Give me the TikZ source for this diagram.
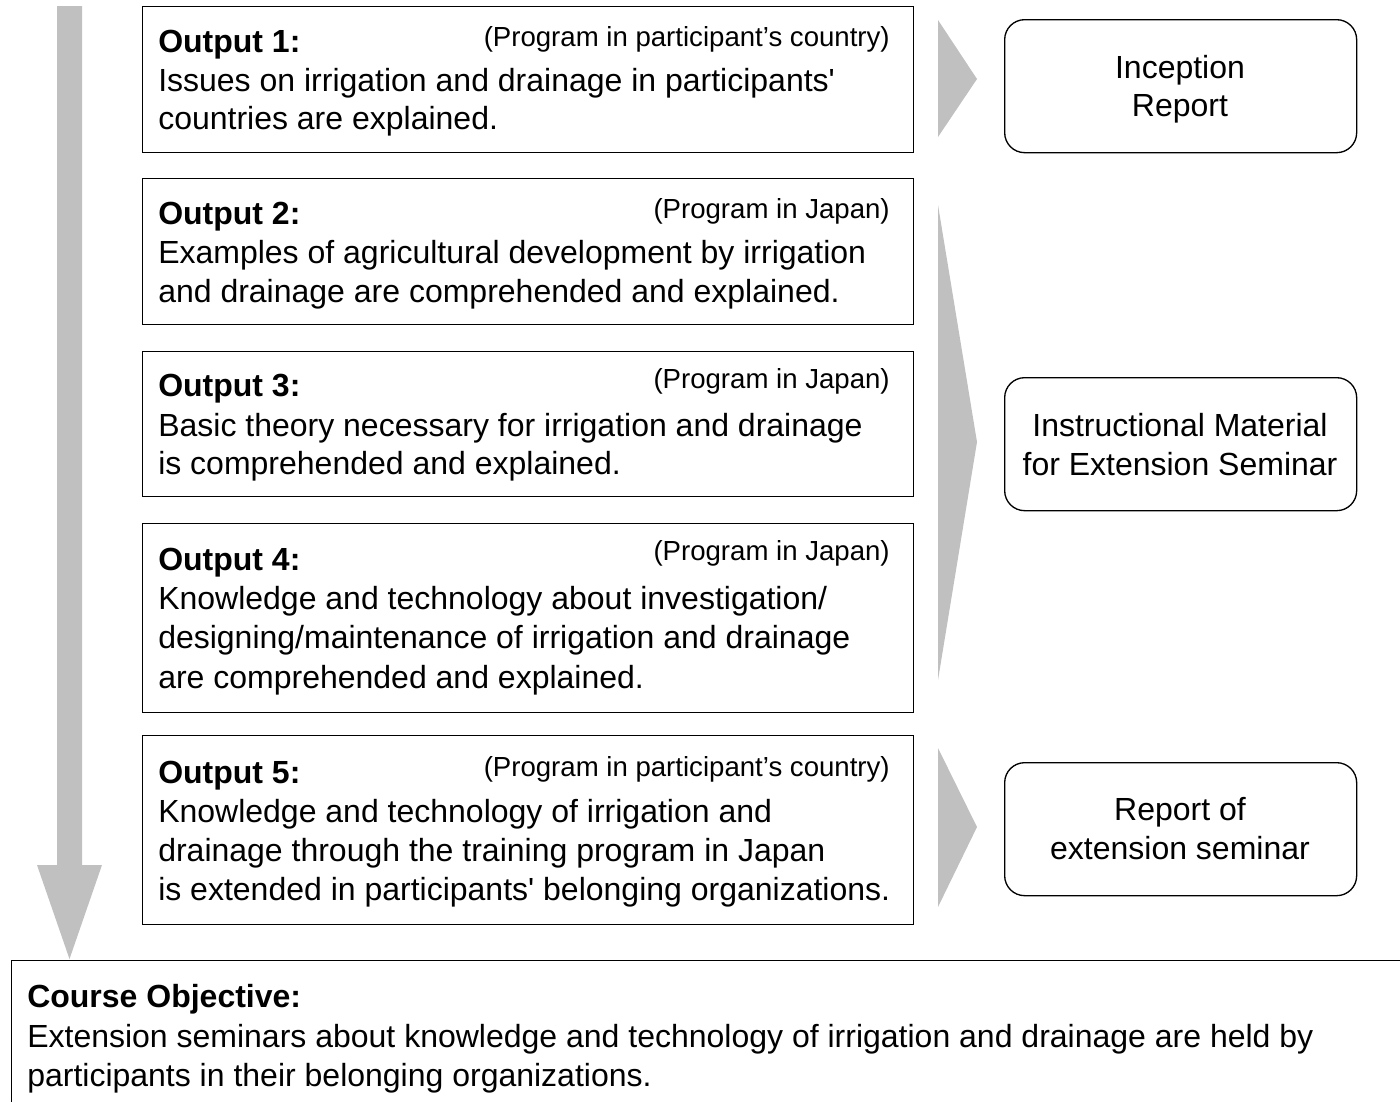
\documentclass[tikz,border=0pt]{standalone}
\usepackage{fontspec}
\setmainfont{Liberation Sans}[Ligatures=TeXOff]
\definecolor{flowgray}{RGB}{192,192,192}
\begin{document}
\begin{tikzpicture}[x=0.75pt,y=-0.75pt,
  outbox/.style={draw=black, line width=1pt, rectangle, inner sep=0pt, anchor=north west, minimum width=578.25pt},
  resbox/.style={draw=black, line width=1pt, rounded corners=15pt, inner sep=0pt, anchor=north west, minimum width=264pt, minimum height=99.75pt},
  txt/.style={anchor=base west, inner sep=0pt, font=\fontsize{24}{29}\selectfont},
  head/.style={anchor=base west, inner sep=0pt, font=\fontsize{24}{29}\selectfont\bfseries},
  prog/.style={anchor=base east, inner sep=0pt, font=\fontsize{20.7}{25}\selectfont},
  rtxt/.style={anchor=base, inner sep=0pt, font=\fontsize{24}{29}\selectfont},
  flow/.style={fill=flowgray, draw=none}]
\useasboundingbox (0,0) rectangle (1400,1101);
\clip (0,0) rectangle (1400,1101);

% big downward arrow
\fill[flowgray] (57,6) -- (82,6) -- (82,865) -- (102,865) -- (69.5,959) -- (37,865) -- (57,865) -- cycle;

% right triangles
\fill[flowgray] (938,20) -- (977,79) -- (938,137) -- cycle;
\fill[flowgray] (938,205) -- (977,442) -- (938,680) -- cycle;
\fill[flowgray] (938,748) -- (977,827) -- (938,907) -- cycle;

% output boxes
\node[outbox, minimum height=109.5pt] (o1) at (142,6) {};
\node[outbox, minimum height=109.5pt] (o2) at (142,178) {};
\node[outbox, minimum height=108.75pt] (o3) at (142,351) {};
\node[outbox, minimum height=141.75pt] (o4) at (142,523) {};
\node[outbox, minimum height=141.75pt] (o5) at (142,735) {};

% Output 1
\node[head] (h1) at (158,52) {Output 1:};
\node[prog] (p1) at (890,46) {(Program in participant’s country)};
\node[txt] (t1a) at (158,91) {Issues on irrigation and drainage in participants'};
\node[txt] (t1b) at (158,129) {countries are explained.};

% Output 2
\node[head] (h2) at (158,224) {Output 2:};
\node[prog] (p2) at (890,218) {(Program in Japan)};
\node[txt] (t2a) at (158,263) {Examples of agricultural development by irrigation};
\node[txt] (t2b) at (158,302) {and drainage are comprehended and explained.};

% Output 3
\node[head] (h3) at (158,396) {Output 3:};
\node[prog] (p3) at (890,388) {(Program in Japan)};
\node[txt] (t3a) at (158,436) {Basic theory necessary for irrigation and drainage};
\node[txt] (t3b) at (158,474) {is comprehended and explained.};

% Output 4
\node[head] (h4) at (158,570) {Output 4:};
\node[prog] (p4) at (890,560) {(Program in Japan)};
\node[txt] (t4a) at (158,609) {Knowledge and technology about investigation/};
\node[txt] (t4b) at (158,648) {designing/maintenance of irrigation and drainage};
\node[txt] (t4c) at (158,688) {are comprehended and explained.};

% Output 5
\node[head] (h5) at (158,783) {Output 5:};
\node[prog] (p5) at (890,776) {(Program in participant’s country)};
\node[txt] (t5a) at (158,822) {Knowledge and technology of irrigation and};
\node[txt] (t5b) at (158,861) {drainage through the training program in Japan};
\node[txt] (t5c) at (158,900) {is extended in participants' belonging organizations.};

% result boxes
\node[resbox] (ra) at (1004,19) {};
\node[rtxt] (ra1) at (1180,78) {Inception};
\node[rtxt] (ra2) at (1180,116) {Report};
\node[resbox] (rb) at (1004,377) {};
\node[rtxt] (rb1) at (1180,436) {Instructional Material};
\node[rtxt] (rb2) at (1180,475) {for Extension Seminar};
\node[resbox] (rc) at (1004,762) {};
\node[rtxt] (rc1) at (1180,820) {Report of};
\node[rtxt] (rc2) at (1180,859) {extension seminar};

% course objective
\node[outbox, minimum width=1056.75pt, minimum height=120pt] (obj) at (11,960) {};
\node[head] (oh) at (27,1007) {Course Objective:};
\node[txt] (ot1) at (27,1047) {Extension seminars about knowledge and technology of irrigation and drainage are held by};
\node[txt] (ot2) at (27,1086) {participants in their belonging organizations.};
\end{tikzpicture}
\end{document}
